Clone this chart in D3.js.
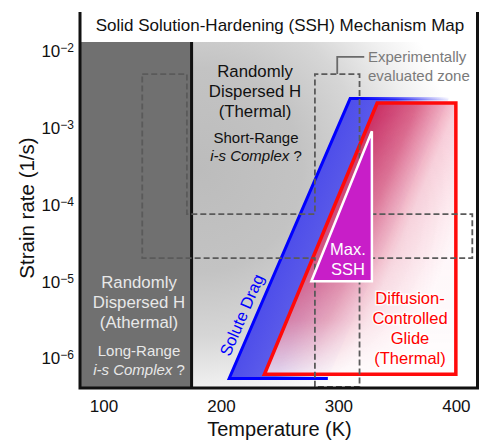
<!DOCTYPE html>
<html>
<head>
<meta charset="utf-8">
<script src="https://cdn.jsdelivr.net/npm/d3@7"></script>
<style>
  html, body { margin: 0; padding: 0; background: #fff; }
  svg { display: block; font-family: "Liberation Sans", Arial, sans-serif; }
</style>
</head>
<body>
<div class="canvas"></div>
<script>
// ---- data: temperature (K) vs strain rate (1/s) ----
const xDomain = [80, 418];
const yDomain = [4.05e-7, 1.31e-2];
const xTicks = [100, 200, 300, 400];
const yTicks = [1e-2, 1e-3, 1e-4, 1e-5, 1e-6];
const athermalLimit = 175;

const soluteDrag = [[207, 5.4e-7], [310, 2.4e-3], [394, 2.4e-3], [291, 5.4e-7]];
const diffusionGlide = [[237, 6.1e-7], [333, 2.1e-3], [400, 2.1e-3], [400, 6.1e-7]];
const maxSSH = [[277, 1e-5], [328.5, 9e-4], [328.5, 1e-5]];
const evaluatedZone = [
  [133, 5e-3], [171, 5e-3], [171, 7.5e-5], [280, 7.5e-5], [280, 5e-3], [318, 5e-3],
  [318, 7.5e-5], [414, 7.5e-5], [414, 2e-5], [318, 2e-5], [318, 4.2e-7], [280, 4.2e-7],
  [280, 2e-5], [133, 2e-5]
];
const zoneLeader = [[299, 5e-3], [299, 8.4e-3], [322, 8.4e-3]];

const W = 479, H = 443;
const svg = d3.select('.canvas')
  .append('svg')
  .attr('width', W)
  .attr('height', H);

const x = d3.scaleLinear().domain(xDomain).range([80, 477]);
const y = d3.scaleLog().domain(yDomain).range([388, 42]);
const pt = d => [x(d[0]), y(d[1])];
const line = d3.line().x(d => x(d[0])).y(d => y(d[1]));

const defs = svg.append('defs');

// gradient running perpendicular to the slanted edge of a polygon
const edgeGradient = (id, poly, len, stops) => {
  const p0 = pt(poly[0]), p1 = pt(poly[1]);
  const dx = p1[0] - p0[0], dy = p1[1] - p0[1];
  const l = Math.hypot(dx, dy);
  const n = [-dy / l, dx / l];
  const g = defs.append('linearGradient').attr('id', id)
    .attr('gradientUnits', 'userSpaceOnUse')
    .attr('x1', p0[0]).attr('y1', p0[1])
    .attr('x2', p0[0] + n[0] * len).attr('y2', p0[1] + n[1] * len);
  stops.forEach(s => g.append('stop').attr('offset', s[0]).attr('stop-color', s[1]).attr('stop-opacity', s[2]));
};

// background gradient of the thermal region
const bg = defs.append('radialGradient').attr('id', 'bgGrad')
  .attr('gradientUnits', 'userSpaceOnUse')
  .attr('cx', 200).attr('cy', 170).attr('r', 255);
[[0, '#bcbcbc'], [0.4, '#c3c3c3'], [0.65, '#d6d6d6'], [0.85, '#f0f0f0'], [1, '#ffffff']]
  .forEach(s => bg.append('stop').attr('offset', s[0]).attr('stop-color', s[1]));

const xL = x(xDomain[0]), xR = x(xDomain[1]);
const yT = y(yDomain[1]), yB = y(yDomain[0]);

svg.append('rect')
  .attr('x', x(athermalLimit)).attr('y', yT)
  .attr('width', xR - x(athermalLimit)).attr('height', yB - yT)
  .attr('fill', 'url(#bgGrad)');

svg.append('rect')
  .attr('x', xL).attr('y', yT)
  .attr('width', x(athermalLimit) - xL).attr('height', yB - yT)
  .attr('fill', '#707070');

svg.append('line')
  .attr('x1', x(athermalLimit)).attr('x2', x(athermalLimit))
  .attr('y1', yT).attr('y2', yB)
  .attr('stroke', '#111').attr('stroke-width', 3);

// solute drag band (blue)
edgeGradient('blueFill', soluteDrag, 92,
  [[0, '#4e4eea', 1], [0.45, '#5454ea', 0.92], [0.8, '#6a6aee', 0.3], [1, '#8080f0', 0.12]]);
const bs = defs.append('linearGradient').attr('id', 'blueStroke')
  .attr('gradientUnits', 'userSpaceOnUse')
  .attr('x1', x(soluteDrag[1][0]) + 8).attr('y1', 0)
  .attr('x2', x(soluteDrag[2][0])).attr('y2', 0);
bs.append('stop').attr('offset', 0).attr('stop-color', '#0000ff').attr('stop-opacity', 1);
bs.append('stop').attr('offset', 1).attr('stop-color', '#0000ff').attr('stop-opacity', 0);

svg.append('path')
  .attr('d', line(soluteDrag) + 'Z')
  .attr('fill', 'url(#blueFill)');
svg.append('path')
  .attr('d', line([soluteDrag[3], soluteDrag[0], soluteDrag[1], soluteDrag[2]]))
  .attr('fill', 'none')
  .attr('stroke', 'url(#blueStroke)')
  .attr('stroke-width', 3)
  .attr('stroke-linejoin', 'miter');

// diffusion-controlled glide (red)
edgeGradient('redFill', diffusionGlide, 125,
  [[0, '#c8245a', 0.95], [0.3, '#d02a5a', 0.7], [0.6, '#e03565', 0.25], [1, '#f04070', 0.05]]);
const rm = defs.append('linearGradient').attr('id', 'redMaskGrad')
  .attr('gradientUnits', 'userSpaceOnUse')
  .attr('x1', 0).attr('y1', y(diffusionGlide[1][1]))
  .attr('x2', 0).attr('y2', y(diffusionGlide[0][1]));
[[0, '#ffffff'], [0.55, '#cccccc'], [0.8, '#888888'], [1, '#151515']]
  .forEach(s => rm.append('stop').attr('offset', s[0]).attr('stop-color', s[1]));
defs.append('mask').attr('id', 'redMask')
  .attr('maskUnits', 'userSpaceOnUse')
  .attr('x', 0).attr('y', 0).attr('width', W).attr('height', H)
  .append('rect').attr('x', 0).attr('y', 0).attr('width', W).attr('height', H)
  .attr('fill', 'url(#redMaskGrad)');

svg.append('path')
  .attr('d', line(diffusionGlide) + 'Z')
  .attr('fill', '#ffffff').attr('fill-opacity', 0.82);
svg.append('path')
  .attr('d', line(diffusionGlide) + 'Z')
  .attr('fill', 'url(#redFill)')
  .attr('mask', 'url(#redMask)');
svg.append('path')
  .attr('d', line(diffusionGlide) + 'Z')
  .attr('fill', 'none')
  .attr('stroke', '#ff0a0a')
  .attr('stroke-width', 3.5);

// experimentally evaluated zone
svg.append('path')
  .attr('d', line(evaluatedZone) + 'Z')
  .attr('fill', 'none')
  .attr('stroke', '#5a5a5a')
  .attr('stroke-width', 1.8)
  .attr('stroke-dasharray', '6,3');
svg.append('path')
  .attr('d', line(zoneLeader))
  .attr('fill', 'none')
  .attr('stroke', '#6a6a6a')
  .attr('stroke-width', 1.8);

// max SSH triangle
svg.append('path')
  .attr('d', line(maxSSH) + 'Z')
  .attr('fill', '#c81ec8')
  .attr('stroke', '#ffffff')
  .attr('stroke-width', 2.5)
  .attr('stroke-linejoin', 'miter');

// ---- labels ----
const addLines = (cx, baselines, lines, size, color, anchor = 'middle') => {
  lines.forEach((l, i) => {
    const t = svg.append('text')
      .attr('x', cx).attr('y', baselines[i])
      .attr('text-anchor', anchor)
      .attr('font-size', size)
      .attr('fill', color);
    if (Array.isArray(l)) {
      t.append('tspan').attr('font-style', 'italic').text(l[0]);
      t.append('tspan').text(l[1]);
    } else t.text(l);
  });
};

svg.append('text')
  .attr('x', 280).attr('y', 31)
  .attr('text-anchor', 'middle')
  .attr('font-size', 17)
  .attr('fill', '#111')
  .text('Solid Solution-Hardening (SSH) Mechanism Map');

addLines(255, [77, 97, 117], ['Randomly', 'Dispersed H', '(Thermal)'], 16.8, '#111');
addLines(256, [143, 161], ['Short-Range', ['i-s Complex', ' ?']], 15, '#111');
addLines(139, [288, 308, 328], ['Randomly', 'Dispersed H', '(Athermal)'], 16.8, '#e8e8e8');
addLines(139, [356, 375], ['Long-Range', ['i-s Complex', ' ?']], 15, '#e8e8e8');
addLines(368, [62, 81], ['Experimentally', 'evaluated zone'], 15, '#7a7a7a', 'start');
addLines(348, [255, 275], ['Max.', 'SSH'], 16.5, '#ffffff');

svg.selectAll('text.glide')
  .data(['Diffusion-', 'Controlled', 'Glide', '(Thermal)'])
  .enter().append('text')
  .attr('class', 'glide')
  .attr('x', 410).attr('y', (d, i) => 304 + i * 20)
  .attr('text-anchor', 'middle')
  .attr('font-size', 16.5)
  .attr('fill', '#ff0000')
  .attr('stroke', '#ffffff').attr('stroke-opacity', 0.8).attr('stroke-width', 3)
  .attr('paint-order', 'stroke')
  .text(d => d);

const p0 = pt(soluteDrag[0]), p1 = pt(soluteDrag[1]);
const ang = Math.atan2(p1[1] - p0[1], p1[0] - p0[0]) * 180 / Math.PI;
svg.append('text')
  .attr('transform', `translate(241.5,315) rotate(${ang})`)
  .attr('text-anchor', 'middle')
  .attr('dominant-baseline', 'central')
  .attr('font-size', 16.5)
  .attr('fill', '#0000ff')
  .text('Solute Drag');

// ---- axes ----
const xAxis = d3.axisBottom(x).tickValues(xTicks).tickSize(0).tickPadding(12);
const xAxisG = svg.append('g').attr('transform', `translate(0,${yB})`).call(xAxis);
xAxisG.select('.domain').remove();
xAxisG.attr('font-family', null).attr('font-size', 17);
xAxisG.selectAll('.tick text').attr('fill', '#111');

const yAxis = d3.axisLeft(y).tickValues(yTicks).tickSize(0).tickPadding(6).tickFormat(() => '');
const yAxisG = svg.append('g').attr('transform', `translate(${xL},0)`).call(yAxis);
yAxisG.select('.domain').remove();
yAxisG.attr('font-family', null).attr('font-size', 17);
yAxisG.selectAll('.tick text')
  .attr('fill', '#111')
  .attr('dy', '0.35em')
  .each(function (d) {
    const t = d3.select(this);
    t.append('tspan').text('10');
    t.append('tspan').attr('font-size', 12).attr('dy', -5)
      .text('\u2212' + Math.round(-Math.log10(d)));
  });

// frame (left, bottom, right)
svg.append('path')
  .attr('d', `M${xL},12V${yB}H${xR + 0.5}V12`)
  .attr('fill', 'none')
  .attr('stroke', '#111')
  .attr('stroke-width', 3);

svg.append('text')
  .attr('x', 279.5).attr('y', 436)
  .attr('text-anchor', 'middle')
  .attr('font-size', 20)
  .attr('fill', '#111')
  .text('Temperature (K)');

svg.append('text')
  .attr('transform', 'translate(33.5,208) rotate(-90)')
  .attr('text-anchor', 'middle')
  .attr('font-size', 20.5)
  .attr('fill', '#111')
  .text('Strain rate (1/s)');
</script>
</body>
</html>
